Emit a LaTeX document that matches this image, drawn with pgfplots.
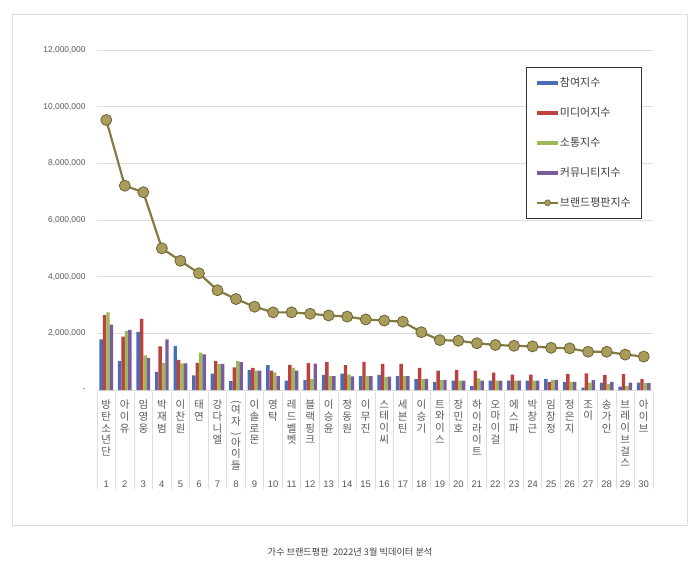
\documentclass[border=0pt]{standalone}
\usepackage{fontspec}
\setmainfont{Liberation Sans}
\newfontfamily\kr{Noto Sans CJK KR}
\usepackage{graphicx}
\usepackage{pgfplots}
\usepackage{pgfplotstable}
\pgfplotsset{compat=1.18}
\definecolor{cBlue}{HTML}{4A6DB3}
\definecolor{cRed}{HTML}{BC423F}
\definecolor{cGreen}{HTML}{9BB957}
\definecolor{cPurple}{HTML}{7A5C9E}
\definecolor{lineOlive}{HTML}{857B42}
\definecolor{markFill}{HTML}{A99D5B}
\definecolor{markDraw}{HTML}{6B6235}
\definecolor{gridgray}{HTML}{DDDDDD}
\definecolor{labelgray}{HTML}{595959}
\definecolor{titlegray}{HTML}{404040}

\pgfplotstableread{
x a b c d t
1 1790000 2640000 2740000 2310000 9530000
2 1030000 1880000 2090000 2120000 7210000
3 2050000 2510000 1220000 1130000 6980000
4 640000 1540000 960000 1790000 5000000
5 1560000 1060000 940000 940000 4560000
6 520000 960000 1320000 1260000 4120000
7 580000 1030000 920000 920000 3520000
8 310000 800000 1020000 980000 3210000
9 710000 780000 680000 680000 2940000
10 880000 680000 620000 490000 2740000
11 330000 890000 780000 680000 2740000
12 350000 950000 380000 930000 2690000
13 530000 990000 490000 490000 2630000
14 580000 880000 540000 480000 2590000
15 490000 990000 490000 490000 2490000
16 530000 920000 460000 470000 2450000
17 490000 920000 490000 490000 2410000
18 380000 780000 390000 390000 2040000
19 290000 680000 350000 360000 1760000
20 330000 710000 330000 330000 1740000
21 140000 680000 410000 330000 1650000
22 330000 610000 330000 330000 1590000
23 330000 540000 330000 330000 1560000
24 330000 540000 330000 330000 1540000
25 390000 290000 360000 360000 1490000
26 290000 560000 290000 290000 1470000
27 80000 590000 260000 350000 1350000
28 260000 530000 210000 290000 1350000
29 120000 560000 140000 260000 1250000
30 260000 380000 240000 240000 1180000
}\data

\newcommand\lp{\rotatebox[origin=c]{-90}{(}}
\newcommand\rp{\rotatebox[origin=c]{-90}{)}}

\begin{document}
\begin{tikzpicture}[x=1pt,y=1pt]
\useasboundingbox (0,0) rectangle (700,573);
\fill[white] (0,0) rectangle (700,573);
\draw[gridgray, line width=0.8pt] (12,48) rectangle (687,559);
\begin{axis}[
  at={(97pt,183pt)}, anchor=south west,
  scale only axis, width=556pt, height=340pt,
  xmin=0.5, xmax=30.5, ymin=0, ymax=12000000,
  axis line style={draw=none},
  clip=false,
  scaled y ticks=false,
  major tick length=0pt,
  ytick={0,2000000,4000000,6000000,8000000,10000000,12000000},
  yticklabels={-,{2,000,000},{4,000,000},{6,000,000},{8,000,000},{10,000,000},{12,000,000}},
  ymajorgrids, grid style={color=gridgray, line width=0.8pt},
  yticklabel style={font=\fontsize{8.4}{10}\selectfont, text=labelgray, xshift=-8pt},
  xtick={1,...,30},
  xticklabels={
    {방\\탄\\소\\년\\단},{아\\이\\유},{임\\영\\웅},{박\\재\\범},{이\\찬\\원},
    {태\\연},{강\\다\\니\\엘},{\lp\\[-3pt]여\\자\\\rp\\[-3pt]아\\이\\들},{이\\솔\\로\\몬},{영\\탁},
    {레\\드\\벨\\벳},{블\\랙\\핑\\크},{이\\승\\윤},{정\\동\\원},{이\\무\\진},
    {스\\테\\이\\씨},{세\\븐\\틴},{이\\승\\기},{트\\와\\이\\스},{장\\민\\호},
    {하\\이\\라\\이\\트},{오\\마\\이\\걸},{에\\스\\파},{박\\창\\근},{임\\창\\정},
    {정\\은\\지},{조\\이},{송\\가\\인},{브\\레\\이\\브\\걸\\스},{아\\이\\브}},
  xticklabel style={font=\kr\fontsize{10.5}{11.7}\selectfont, align=center, anchor=north, inner sep=0pt, text=labelgray, yshift=-10pt},
  legend style={at={(rel axis cs:0.7716,0.95)}, anchor=north west,
    draw=black!80, line width=0.6pt, inner xsep=10pt, inner ysep=9pt,
    row sep=17pt, font=\kr\fontsize{11}{12}\selectfont, text=titlegray,
    nodes={text height=9pt, text depth=2pt, inner sep=1pt}},
  legend cell align=left,
]
\pgfplotsinvokeforeach{0.5,1.5,...,30.5}{
  \draw[gridgray, line width=0.8pt] (axis cs:#1,0) ++(0pt,-2pt) -- ++(0pt,-97pt);
}
\pgfplotsinvokeforeach{1,...,30}{
  \node[font=\fontsize{9.5}{11}\selectfont, text=labelgray] at (axis cs:#1,0) [yshift=-94pt] {#1};
}
\addplot[ybar, bar width=0.185, bar shift=-0.2775, fill=cBlue, draw=none,
  legend image code/.code={\fill[cBlue] (0pt,-2pt) rectangle (21pt,2pt);}]
  table[x=x,y=a]{\data};
\addlegendentry{참여지수}
\addplot[ybar, bar width=0.185, bar shift=-0.0925, fill=cRed, draw=none,
  legend image code/.code={\fill[cRed] (0pt,-2pt) rectangle (21pt,2pt);}]
  table[x=x,y=b]{\data};
\addlegendentry{미디어지수}
\addplot[ybar, bar width=0.185, bar shift=0.0925, fill=cGreen, draw=none,
  legend image code/.code={\fill[cGreen] (0pt,-2pt) rectangle (21pt,2pt);}]
  table[x=x,y=c]{\data};
\addlegendentry{소통지수}
\addplot[ybar, bar width=0.185, bar shift=0.2775, fill=cPurple, draw=none,
  legend image code/.code={\fill[cPurple] (0pt,-2pt) rectangle (21pt,2pt);}]
  table[x=x,y=d]{\data};
\addlegendentry{커뮤니티지수}
\addplot[color=lineOlive, line width=2.2pt, mark=*, mark size=5.5pt,
  mark options={fill=markFill, draw=markDraw, line width=0.8pt},
  legend image code/.code={\draw[lineOlive, line width=1.6pt] (0pt,0pt) -- (21pt,0pt);
    \filldraw[fill=markFill, draw=markDraw, line width=0.6pt] (10.5pt,0pt) circle (3pt);}]
  table[x=x,y=t]{\data};
\addlegendentry{브랜드평판지수}
\end{axis}
\node[font=\kr\fontsize{9.2}{11}\selectfont, text=titlegray] at (350,21) {가수 브랜드평판\ \ 2022년 3월 빅데이터 분석};
\end{tikzpicture}
\end{document}
